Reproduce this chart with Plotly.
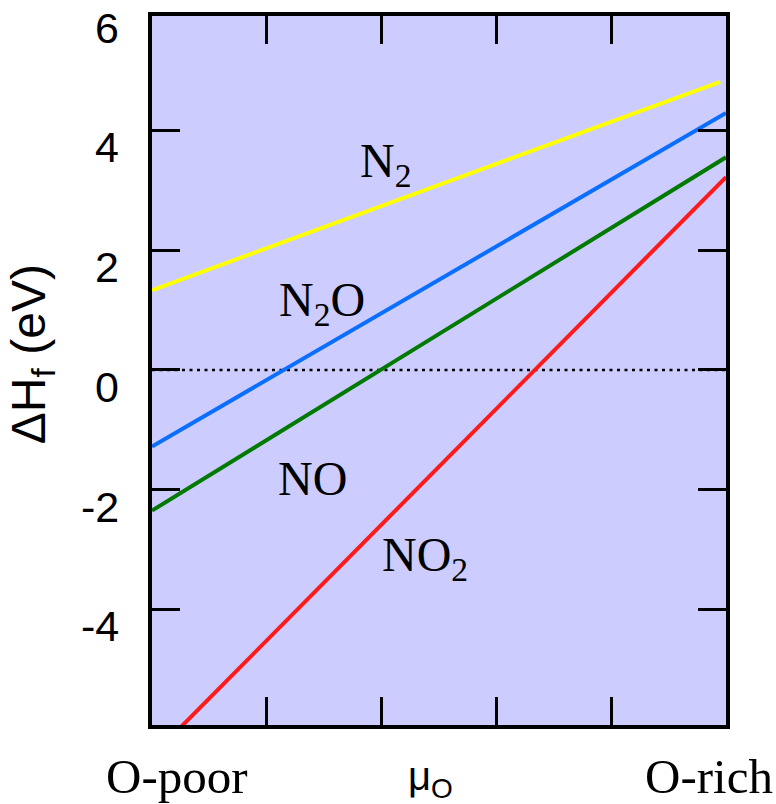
import plotly.graph_objects as go

# ---- data ----
x_ends = [0.0, 1.0]
n2_x = [0.0, 0.99]
n2_y = [1.33, 4.81]
n2o_y = [-1.28, 4.29]
no_y = [-2.35, 3.55]
no2_y = [-6.45, 3.22]
zero_y = [0.0, 0.0]

y_range = [-5.93, 5.91]
ytick_vals = [-4, -2, 0, 2, 4, 6]
ytick_text = ["-4", "-2", "0", "2", "4", "6"]
xtick_vals = [0.2, 0.4, 0.6, 0.8]

labels = ["N<sub>2</sub>", "N<sub>2</sub>O", "NO", "NO<sub>2</sub>"]
label_x = [0.406, 0.296, 0.28, 0.475]
label_y = [3.44, 1.11, -1.81, -3.14]

xcat_text = ["O-poor", "O-rich"]
xcat_pos = [0.044, 0.97]

fig = go.Figure()
fig.add_trace(go.Scatter(x=x_ends, y=zero_y, mode="lines",
                         line=dict(color="black", width=2.5, dash="3px,4.5px"),
                         showlegend=False, hoverinfo="skip"))
fig.add_trace(go.Scatter(x=n2_x, y=n2_y, mode="lines",
                         line=dict(color="#FFFF00", width=4), showlegend=False))
fig.add_trace(go.Scatter(x=x_ends, y=n2o_y, mode="lines",
                         line=dict(color="#0A6EFF", width=4), showlegend=False))
fig.add_trace(go.Scatter(x=x_ends, y=no_y, mode="lines",
                         line=dict(color="#007A00", width=4), showlegend=False))
fig.add_trace(go.Scatter(x=x_ends, y=no2_y, mode="lines",
                         line=dict(color="#FF1A1A", width=4), showlegend=False))

serif = "Liberation Serif, Times New Roman, serif"
sans = "Liberation Sans, Arial, sans-serif"

annotations = []
for t, lx, ly in zip(labels, label_x, label_y):
    annotations.append(dict(x=lx, y=ly, xref="x", yref="y", text=t, showarrow=False,
                            font=dict(family=serif, size=48, color="black"),
                            xanchor="center", yanchor="middle"))
span = y_range[1] - y_range[0]
for v, t in zip(ytick_vals, ytick_text):
    annotations.append(dict(x=-0.054, y=(v - y_range[0]) / span, xref="paper", yref="paper",
                            text=t, showarrow=False,
                            font=dict(family=sans, size=43, color="black"),
                            xanchor="right", yanchor="middle", yshift=-17))
for t, px in zip(xcat_text, xcat_pos):
    annotations.append(dict(x=px, y=-0.073, xref="x", yref="paper", text=t, showarrow=False,
                            font=dict(family=serif, size=49, color="black"),
                            xanchor="center", yanchor="middle"))
annotations.append(dict(x=0.485, y=-0.076, xref="x", yref="paper", text="μ<sub>O</sub>",
                        showarrow=False, font=dict(family=sans, size=40, color="black"),
                        xanchor="center", yanchor="middle"))
annotations.append(dict(x=-0.21, y=0.27, xref="paper", yref="y", text="ΔH<sub>f</sub> (eV)",
                        showarrow=False, textangle=-90,
                        font=dict(family=sans, size=48, color="black"),
                        xanchor="center", yanchor="middle"))

axis_common = dict(showline=True, linewidth=4, linecolor="black", mirror="ticks",
                   ticks="inside", ticklen=28, tickwidth=3, tickcolor="black",
                   showgrid=False, zeroline=False, showticklabels=False)

fig.update_layout(
    width=776, height=804,
    margin=dict(l=152, r=50, t=12, b=79),
    paper_bgcolor="white",
    plot_bgcolor="rgb(204,204,255)",
    xaxis=dict(range=[0, 1], tickvals=xtick_vals, **axis_common),
    yaxis=dict(range=y_range, tickvals=ytick_vals[:-1], **axis_common),
    annotations=annotations,
    showlegend=False,
)

fig.write_html("out.html")
